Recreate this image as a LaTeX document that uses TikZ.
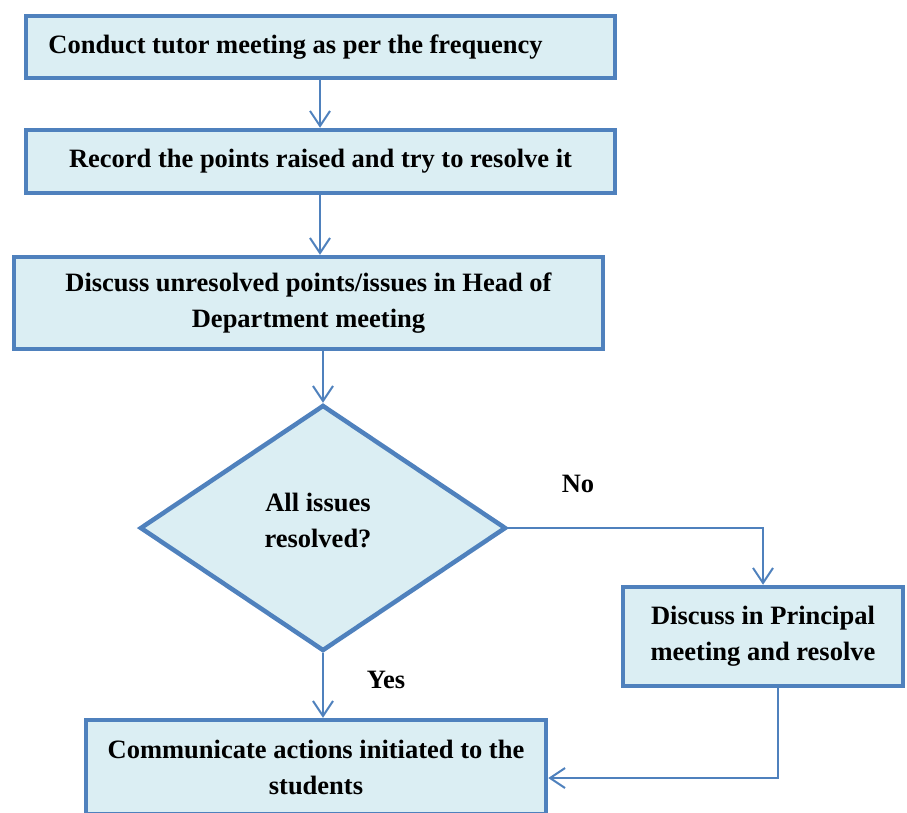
\documentclass[tikz,border=0pt]{standalone}
\usepackage{fontspec}
\setmainfont{Liberation Serif}
\usetikzlibrary{shapes.geometric,arrows.meta}
\definecolor{bordblue}{HTML}{4F81BD}
\definecolor{fillblue}{HTML}{DBEEF3}
\tikzset{
  procbox/.style={draw=bordblue, fill=fillblue, line width=4.5pt, rectangle, inner sep=0pt, align=center, font=\fontsize{26.5}{36}\selectfont\bfseries},
  decbox/.style={draw=bordblue, fill=fillblue, line width=4.5pt, diamond, inner sep=0pt},
  dtxt/.style={align=center, inner sep=0pt, font=\fontsize{26.5}{36}\selectfont\bfseries},
  conn/.style={draw=bordblue, line width=2pt, -{Straight Barb[length=15pt,width=20pt,line width=2pt]}},
  lbl/.style={font=\fontsize{26.5}{30}\selectfont\bfseries, inner sep=0pt}
}
\begin{document}
\begin{tikzpicture}[x=1pt,y=-1pt]
\useasboundingbox (0,0) rectangle (907,812);
\node[procbox, minimum width=589pt, minimum height=62pt] (b1) at (320.5,47) {\hspace*{-50pt}Conduct tutor meeting as per the frequency};
\node[procbox, minimum width=589pt, minimum height=63pt] (b2) at (320.5,161.5) {Record the points raised and try to resolve it};
\node[procbox, minimum width=589pt, minimum height=92pt] (b3) at (308.5,303) {Discuss unresolved points/issues in Head of\\Department meeting};
\node[decbox, minimum width=366pt, minimum height=246pt] (d) at (323,528) {};
\node[dtxt] (dt) at (318,520) {All issues\\resolved?};
\node[procbox, minimum width=280pt, minimum height=99pt] (p) at (763,636.5) {Discuss in Principal\\meeting and resolve};
\node[procbox, minimum width=460pt, minimum height=94pt] (c) at (316,767) {Communicate actions initiated to the\\students};
\node[lbl] (no) at (578,484) {No};
\node[lbl] (yes) at (386,680) {Yes};
\draw[conn] (b1.south -| 320,0) -- (b2.north -| 320,0);
\draw[conn] (b2.south -| 320,0) -- (b3.north -| 320,0);
\draw[conn] (b3.south -| d.north) -- (d.north);
\draw[conn] (d.south) -- (c.north -| d.south);
\draw[conn] (d.east) -| (p.north);
\draw[conn] ([xshift=15pt]p.south) |- ([yshift=-11pt]c.east);
\end{tikzpicture}
\end{document}
